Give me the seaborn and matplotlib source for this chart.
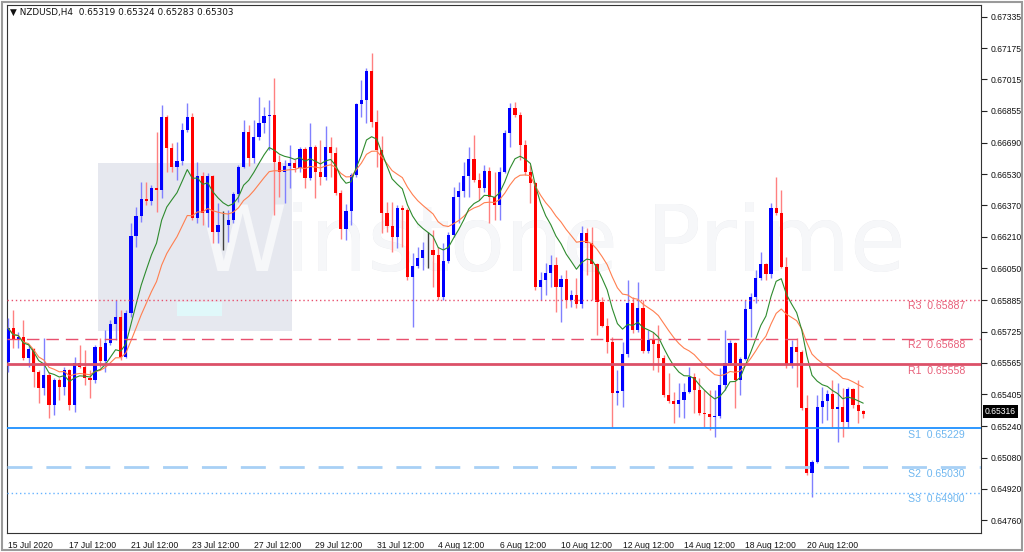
import numpy as np
import pandas as pd
import matplotlib
matplotlib.use("Agg")
import matplotlib.pyplot as plt
import matplotlib.transforms as mtransforms
from matplotlib.patches import Rectangle
import seaborn as sns

# ==================================================================================
# NZDUSD H4 candles, 15 Jul - 21 Aug 2020
# ==================================================================================
first_open = 0.65569

closes = [0.65743, 0.65681, 0.65697, 0.65589, 0.65635, 0.65517, 0.65435, 0.65502, 0.65348, 0.65476,
          0.65441, 0.65528, 0.65348, 0.65563, 0.65543, 0.65487, 0.65476, 0.65645, 0.65574, 0.65666,
          0.65763, 0.65799, 0.65594, 0.65819, 0.66214, 0.66316, 0.66403, 0.66393, 0.66459, 0.66449,
          0.66823, 0.66664, 0.66567, 0.66598, 0.66756, 0.66823, 0.66306, 0.66521, 0.66331, 0.66521,
          0.66234, 0.66270, 0.66270, 0.66296, 0.66429, 0.66567, 0.66746, 0.66613, 0.66721, 0.66792,
          0.66828, 0.66833, 0.66593, 0.66541, 0.66572, 0.66587, 0.66562, 0.66659, 0.66511, 0.66669,
          0.66541, 0.66516, 0.66669, 0.66639, 0.66434, 0.66250, 0.66342, 0.66526, 0.66890, 0.66910,
          0.67058, 0.66797, 0.66654, 0.66331, 0.66265, 0.66209, 0.66357, 0.66347, 0.66004, 0.66060,
          0.66101, 0.66142, 0.66142, 0.66116, 0.65901, 0.66086, 0.66219, 0.66413, 0.66444, 0.66521,
          0.66608, 0.66500, 0.66459, 0.66546, 0.66413, 0.66372, 0.66541, 0.66741, 0.66869, 0.66833,
          0.66680, 0.66541, 0.66485, 0.65953, 0.65988, 0.66024, 0.66065, 0.65953, 0.65994, 0.65886,
          0.65912, 0.65866, 0.66229, 0.66178, 0.66070, 0.65876, 0.65753, 0.65671, 0.65410, 0.65420,
          0.65610, 0.65871, 0.65732, 0.65845, 0.65625, 0.65681, 0.65661, 0.65589, 0.65400, 0.65369,
          0.65354, 0.65374, 0.65415, 0.65492, 0.65425, 0.65307, 0.65302, 0.65287, 0.65292, 0.65451,
          0.65563, 0.65666, 0.65476, 0.65584, 0.65840, 0.65901, 0.65999, 0.66070, 0.66019, 0.66357,
          0.66331, 0.66055, 0.65558, 0.65645, 0.65620, 0.65333, 0.65000, 0.65057, 0.65338, 0.65369,
          0.65405, 0.65328, 0.65338, 0.65261, 0.65430, 0.65348, 0.65319, 0.65303]

highs = [0.65794, 0.65835, 0.65722, 0.65784, 0.65656, 0.65640, 0.65528, 0.65691, 0.65517, 0.65487,
         0.65487, 0.65543, 0.65533, 0.65594, 0.65656, 0.65630, 0.65528, 0.65656, 0.65691, 0.65732,
         0.65784, 0.65886, 0.65835, 0.65835, 0.66280, 0.66362, 0.66490, 0.66490, 0.66475, 0.66746,
         0.66884, 0.66833, 0.66690, 0.66695, 0.66792, 0.66895, 0.66843, 0.66593, 0.66541, 0.66536,
         0.66526, 0.66383, 0.66342, 0.66347, 0.66439, 0.66577, 0.66808, 0.66782, 0.66808, 0.66925,
         0.66874, 0.66910, 0.67023, 0.66628, 0.66603, 0.66680, 0.66608, 0.66669, 0.66669, 0.66792,
         0.66680, 0.66705, 0.66777, 0.66721, 0.66669, 0.66449, 0.66378, 0.66536, 0.66895, 0.67012,
         0.67074, 0.67151, 0.66859, 0.66726, 0.66388, 0.66388, 0.66372, 0.66372, 0.66357, 0.66127,
         0.66157, 0.66183, 0.66234, 0.66244, 0.66157, 0.66178, 0.66234, 0.66465, 0.66490, 0.66593,
         0.66669, 0.66731, 0.66536, 0.66577, 0.66567, 0.66541, 0.66567, 0.66756, 0.66895, 0.66900,
         0.66849, 0.66705, 0.66577, 0.66490, 0.66029, 0.66075, 0.66116, 0.66106, 0.66014, 0.66040,
         0.65937, 0.65999, 0.66265, 0.66255, 0.66260, 0.66075, 0.65901, 0.65794, 0.65697, 0.65528,
         0.65671, 0.65988, 0.65901, 0.65978, 0.65886, 0.65732, 0.65722, 0.65758, 0.65604, 0.65512,
         0.65415, 0.65461, 0.65461, 0.65543, 0.65512, 0.65487, 0.65425, 0.65425, 0.65425, 0.65538,
         0.65732, 0.65681, 0.65671, 0.65594, 0.65886, 0.65922, 0.66040, 0.66132, 0.66075, 0.66383,
         0.66516, 0.66449, 0.66106, 0.65681, 0.65691, 0.65630, 0.65400, 0.65067, 0.65400, 0.65441,
         0.65425, 0.65476, 0.65461, 0.65435, 0.65441, 0.65435, 0.65476, 0.65324]

lows = [0.65517, 0.65640, 0.65640, 0.65579, 0.65543, 0.65441, 0.65359, 0.65400, 0.65282, 0.65297,
        0.65374, 0.65400, 0.65323, 0.65313, 0.65538, 0.65451, 0.65384, 0.65461, 0.65543, 0.65517,
        0.65656, 0.65681, 0.65579, 0.65589, 0.65799, 0.66157, 0.66285, 0.66372, 0.66372, 0.66337,
        0.66408, 0.66541, 0.66541, 0.66500, 0.66577, 0.66746, 0.66296, 0.66280, 0.66270, 0.66260,
        0.66178, 0.66178, 0.66142, 0.66183, 0.66280, 0.66388, 0.66562, 0.66572, 0.66587, 0.66705,
        0.66741, 0.66654, 0.66321, 0.66413, 0.66383, 0.66459, 0.66541, 0.66541, 0.66459, 0.66500,
        0.66408, 0.66475, 0.66500, 0.66516, 0.66424, 0.66198, 0.66193, 0.66270, 0.66516, 0.66823,
        0.66792, 0.66772, 0.66567, 0.66229, 0.66234, 0.66132, 0.66152, 0.66157, 0.65988, 0.65748,
        0.66050, 0.66040, 0.66050, 0.65953, 0.65886, 0.65886, 0.66075, 0.66209, 0.66280, 0.66413,
        0.66413, 0.66490, 0.66398, 0.66439, 0.66280, 0.66296, 0.66296, 0.66536, 0.66669, 0.66823,
        0.66603, 0.66526, 0.66383, 0.65937, 0.65886, 0.65912, 0.65953, 0.65825, 0.65773, 0.65845,
        0.65850, 0.65845, 0.65845, 0.66014, 0.65886, 0.65707, 0.65748, 0.65615, 0.65236, 0.65348,
        0.65338, 0.65594, 0.65717, 0.65722, 0.65615, 0.65615, 0.65528, 0.65517, 0.65389, 0.65359,
        0.65256, 0.65287, 0.65282, 0.65410, 0.65307, 0.65297, 0.65236, 0.65220, 0.65185, 0.65282,
        0.65425, 0.65553, 0.65333, 0.65400, 0.65579, 0.65697, 0.65871, 0.65988, 0.65988, 0.65999,
        0.66321, 0.66050, 0.65538, 0.65538, 0.65441, 0.65323, 0.64990, 0.64877, 0.65051, 0.65256,
        0.65272, 0.65236, 0.65159, 0.65185, 0.65231, 0.65333, 0.65256, 0.65283]

# time axis labels, one every 12 bars (2 trading days of H4)
time_labels = ['15 Jul 2020', '17 Jul 12:00', '21 Jul 12:00', '23 Jul 12:00', '27 Jul 12:00',
               '29 Jul 12:00', '31 Jul 12:00', '4 Aug 12:00', '6 Aug 12:00', '10 Aug 12:00',
               '12 Aug 12:00', '14 Aug 12:00', '18 Aug 12:00', '20 Aug 12:00']
BARS_PER_LABEL = 12

price_ticks = [0.67335, 0.67175, 0.67015, 0.66855, 0.66690, 0.66530, 0.66370, 0.66210, 0.66050,
               0.65885, 0.65725, 0.65565, 0.65405, 0.65240, 0.65080, 0.64920, 0.64760]

# pivot levels
level_names = ['R3', 'R2', 'R1', 'S1', 'S2', 'S3']
level_values = [0.65887, 0.65688, 0.65558, 0.65229, 0.65030, 0.64900]

bid_price = 0.65316
header = '\u25bc NZDUSD,H4  0.65319 0.65324 0.65283 0.65303'

# ==================================================================================
sns.set_theme(style='white')
plt.rcParams['font.family'] = ['Liberation Sans', 'DejaVu Sans']

df = pd.DataFrame({'close': closes, 'high': highs, 'low': lows})
df['open'] = [first_open] + closes[:-1]
df['bar'] = np.arange(len(df))
df['ma_fast'] = df['close'].ewm(span=10, adjust=True).mean()
df['ma_slow'] = df['close'].ewm(span=20, adjust=True).mean()

up = df['close'] > df['open']
down = df['close'] < df['open']
body_col = np.where(up, '#0000ff', np.where(down, '#ff0000', '#000000'))
wick_col = np.where(up, '#8080ff', np.where(down, '#ff8080', '#404040'))

W, H = 1024, 552
fig = plt.figure(figsize=(W / 100, H / 100), dpi=100)
ax = fig.add_axes([7 / W, 1 - 533 / H, (981 - 7) / W, (533 - 5) / H])
ax.set_facecolor('white')
trans = mtransforms.blended_transform_factory(ax.transAxes, ax.transData)

# watermark: grey logo box, text grey outside the box and white inside it
box = Rectangle(((98 - 7) / 974, (533 - 331) / 528), 194 / 974, 168 / 528,
                transform=ax.transAxes, facecolor='#e6e8ef', edgecolor='none', zorder=0.5)
ax.add_patch(box)
ax.add_patch(Rectangle(((177 - 7) / 974, (533 - 316) / 528), 45 / 974, 14 / 528,
                       transform=ax.transAxes, facecolor='#e0f8fa', edgecolor='none', zorder=0.6))
wm_kw = dict(transform=ax.transAxes, fontsize=65, ha='left', va='center', family='DejaVu Sans')
ax.text((198 - 7) / 974, (533 - 246) / 528, 'Winstone Prime', color='#e5e6eb', zorder=0.4, **wm_kw)
wm_in = ax.text((198 - 7) / 974, (533 - 246) / 528, 'Winstone Prime', color='#f6f7f9',
                zorder=0.7, **wm_kw)
wm_in.set_clip_path(box)

# candles
ax.vlines(df['bar'], df['low'], df['high'], colors=wick_col, lw=1, zorder=3)
body_h = np.maximum((df['close'] - df['open']).abs(), 0.000025)
ax.bar(df['bar'], body_h, bottom=np.minimum(df['open'], df['close']), width=0.62,
       color=body_col, linewidth=0, zorder=4)

# moving averages
sns.lineplot(x=df['bar'], y=df['ma_slow'], color='#ff7f50', lw=0.8, ax=ax, zorder=5)
sns.lineplot(x=df['bar'], y=df['ma_fast'], color='#2e8b2e', lw=0.8, ax=ax, zorder=5)

# pivot lines
level_style = {'R3': ('#e8506e', (0, (1, 2)), 1.0, '#e8607a'),
               'R2': ('#e8506e', (0, (9, 5)), 1.0, '#e8607a'),
               'R1': ('#dc5068', '-', 2.0, '#e8607a'),
               'S1': ('#1e90ff', '-', 1.3, '#6fb7f0'),
               'S2': ('#a8d0f5', (0, (9, 5)), 2.0, '#6fb7f0'),
               'S3': ('#66b3ff', (0, (1, 2)), 1.0, '#6fb7f0')}
for name, val in zip(level_names, level_values):
    col, ls, lw, tcol = level_style[name]
    ax.axhline(val, color=col, ls=ls, lw=lw, zorder=6)
    ax.text((908 - 7) / 974, val - 0.00008, f'{name}  {val:.5f}', transform=trans,
            color=tcol, fontsize=7.6, ha='left', va='top', zorder=7)

ax.set_xlim(-0.2, 190.0)
ax.set_ylim(0.64694, 0.67396)

ax.yaxis.tick_right()
ax.set_yticks(price_ticks)
ax.set_yticklabels([f'{p:.5f}' for p in price_ticks])
ax.set_xticks(np.arange(len(time_labels)) * BARS_PER_LABEL)
ax.set_xticklabels(time_labels)
for lbl in ax.get_xticklabels():
    lbl.set_horizontalalignment('left')
ax.tick_params(axis='both', which='major', direction='out', length=4, width=0.8,
               color='#222222', labelsize=6.2, labelcolor='#111111')
ax.tick_params(axis='x', pad=2)
ax.tick_params(axis='y', pad=3, right=True, left=False)
ax.set_xlabel('')
ax.set_ylabel('')
for sp in ax.spines.values():
    sp.set_visible(True)
    sp.set_color('#333333')
    sp.set_linewidth(0.8)

# bid price box on the price scale
ax.text(1.004, bid_price, f'{bid_price:.5f}', transform=trans, color='white', fontsize=6.2,
        ha='left', va='center', bbox=dict(facecolor='black', edgecolor='none', pad=1.2),
        clip_on=False, zorder=8)

# symbol header
ax.text(3 / 974, 1 - 7 / 528, header, transform=ax.transAxes, fontsize=6.4, color='#111111',
        ha='left', va='center', family=['DejaVu Sans'], zorder=8)

# window frame
fig.patches.append(Rectangle((2 / W, 2 / H), 1020 / W, 548 / H, transform=fig.transFigure,
                             fill=False, edgecolor='#9a9a9a', lw=1.5))

fig.savefig('out.png', dpi=100)
